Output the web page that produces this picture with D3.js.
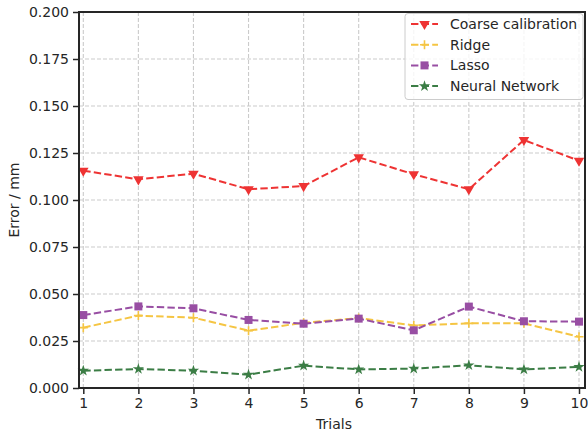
<!DOCTYPE html>
<html><head><meta charset="utf-8">
<script src="https://cdn.jsdelivr.net/npm/d3@7"></script>
<style>
html,body{margin:0;padding:0;background:#fff;}
svg{display:block;font-family:"DejaVu Sans",sans-serif;}
</style></head>
<body><svg id="c" width="588" height="436"></svg>
<script>
const trials = [1,2,3,4,5,6,7,8,9,10];
const coarse = [0.1156,0.1110,0.1140,0.1057,0.1074,0.1227,0.1137,0.1057,0.1319,0.1209];
const ridge  = [0.0321,0.0385,0.0374,0.0305,0.0347,0.0372,0.0333,0.0344,0.0344,0.0273];
const lasso  = [0.0388,0.0434,0.0424,0.0362,0.0342,0.0369,0.0307,0.0433,0.0355,0.0353];
const nn     = [0.0092,0.0101,0.0092,0.0071,0.0119,0.0099,0.0103,0.0121,0.0099,0.0112];
const yTicks = [0,0.025,0.05,0.075,0.1,0.125,0.15,0.175,0.2];
const seriesNames = ["Coarse calibration","Ridge","Lasso","Neural Network"];

const series = [
  {name: seriesNames[0], values: coarse, color: "#ee3333", marker: "tri"},
  {name: seriesNames[1], values: ridge,  color: "#f5c543", marker: "plus"},
  {name: seriesNames[2], values: lasso,  color: "#984ea3", marker: "square"},
  {name: seriesNames[3], values: nn,     color: "#3b7d45", marker: "star"}
];

const svg = d3.select("#c");
const L = 79, R = 585, T = 12, B = 388;
const x = d3.scaleLinear().domain([1,10]).range([83.3,579]);
const y = d3.scaleLinear().domain([0,0.2]).range([B,T]);

// grid
const g = svg.append("g");
g.selectAll(".gy").data(yTicks).enter().append("line")
  .attr("x1",L).attr("x2",R).attr("y1",d=>y(d)).attr("y2",d=>y(d))
  .attr("stroke","#cbcbcb").attr("stroke-width",1.1).attr("stroke-dasharray","4,2");
g.selectAll(".gx").data(trials).enter().append("line")
  .attr("y1",T).attr("y2",B).attr("x1",d=>x(d)).attr("x2",d=>x(d))
  .attr("stroke","#cbcbcb").attr("stroke-width",1.1).attr("stroke-dasharray","4,2");

// lines
const line = d3.line().x((d,i)=>x(trials[i])).y(d=>y(d));
function markerPath(type){
  if(type==="tri") return d3.symbol(d3.symbolTriangle, 48)();
  if(type==="square") return d3.symbol(d3.symbolSquare, 64)();
  if(type==="star") return d3.symbol(d3.symbolStar, 40)();
  return null;
}
function drawMarker(sel, type, color, cx, cy){
  if(type==="plus"){
    sel.append("path").attr("d",`M${cx-4.5},${cy}H${cx+4.5}M${cx},${cy-4.5}V${cy+4.5}`)
      .attr("stroke",color).attr("stroke-width",1.6).attr("fill","none");
  } else {
    sel.append("path").attr("d",markerPath(type)).attr("fill",color)
      .attr("transform",`translate(${cx},${cy})` + (type==="tri"?" rotate(180)":""));
  }
}
series.forEach(s=>{
  svg.append("path").attr("d",line(s.values)).attr("fill","none")
    .attr("stroke",s.color).attr("stroke-width",2).attr("stroke-dasharray","7.4,3.2");
  const mg = svg.append("g");
  s.values.forEach((v,i)=>drawMarker(mg,s.marker,s.color,x(trials[i]),y(v)));
});

// axes
const yAxis = d3.axisLeft(y).tickValues(yTicks).tickFormat(d3.format(".3f")).tickSize(6).tickPadding(4);
const xAxis = d3.axisBottom(x).tickValues(trials).tickFormat(d3.format("d")).tickSize(6).tickPadding(4);
const ya = svg.append("g").attr("transform",`translate(${L},0)`).call(yAxis);
const xa = svg.append("g").attr("transform",`translate(0,${B})`).call(xAxis);
[ya,xa].forEach(a=>{
  a.select(".domain").remove();
  a.selectAll("text").attr("font-size",14).attr("fill","#262626").attr("font-family","DejaVu Sans");
  a.selectAll("line").attr("stroke","#262626").attr("stroke-width",1.5);
});
svg.append("rect").attr("x",L).attr("y",T).attr("width",R-L).attr("height",B-T)
  .attr("fill","none").attr("stroke","#262626").attr("stroke-width",2);

svg.append("text").attr("x",(L+R)/2+2).attr("y",429).attr("text-anchor","middle")
  .attr("font-size",14).attr("fill","#262626").text("Trials");
svg.append("text").attr("transform",`translate(19,${(T+B)/2}) rotate(-90)`).attr("text-anchor","middle")
  .attr("font-size",14).attr("fill","#262626").text("Error / mm");

// legend
const lg = svg.append("g");
lg.append("rect").attr("x",405).attr("y",13.5).attr("width",178).attr("height",86).attr("rx",3)
  .attr("fill","#fff").attr("fill-opacity",0.8).attr("stroke","#cccccc").attr("stroke-width",1);
series.forEach((s,i)=>{
  const cy = 24 + i*20.7;
  lg.append("line").attr("x1",411).attr("x2",438).attr("y1",cy).attr("y2",cy)
    .attr("stroke",s.color).attr("stroke-width",2).attr("stroke-dasharray","7.4,3.2");
  drawMarker(lg,s.marker,s.color,424.5,cy);
  lg.append("text").attr("x",450).attr("y",cy).attr("dy","0.35em").attr("font-size",14)
    .attr("fill","#262626").text(s.name);
});
</script></body></html>
